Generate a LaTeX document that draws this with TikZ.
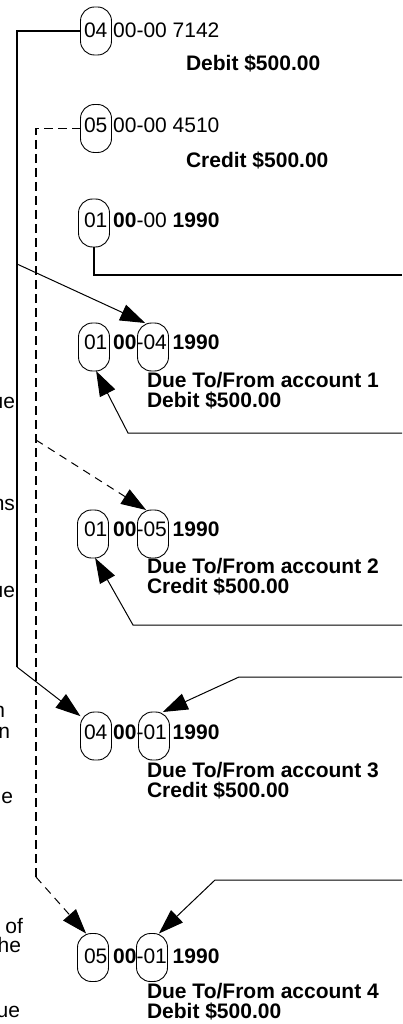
\documentclass[tikz,border=0pt]{standalone}
\usepackage{fontspec}
\setmainfont{Liberation Sans}
\usetikzlibrary{arrows.meta}
\begin{document}
\begin{tikzpicture}[x=1pt,y=-1pt,
  every node/.style={inner sep=0pt, outer sep=0pt, font=\fontsize{21pt}{20pt}\selectfont},
  oval/.style={draw, line width=0.9pt, rectangle, rounded corners=14pt, minimum width=31pt, minimum height=48pt},
  row/.style={anchor=base west},
  lab/.style={anchor=base west, font=\fontsize{21pt}{20pt}\selectfont\bfseries},
  frag/.style={anchor=base east},
  arr/.style={-{Triangle[length=25pt,width=17pt]}},
  thinline/.style={line width=1pt},
  outerline/.style={line width=1.4pt},
  dashouter/.style={line width=1.6pt, dash pattern=on 9pt off 5pt},
  dashinner/.style={line width=1pt, dash pattern=on 8pt off 6pt},
  thickline/.style={line width=2.2pt}
]
\useasboundingbox (0,0) rectangle (402,1024);

% texts
\node[row] (tA) at (84,37.5) {04 00-00 7142};
\node[lab] (lA) at (186,71) {Debit \$500.00};
\node[row] (tB) at (84,133) {05 00-00 4510};
\node[lab] (lB) at (186,168) {Credit \$500.00};
\node[row] (tC) at (84,227) {01 \textbf{00}-00 \textbf{1990}};
\node[row] (tD) at (84,349) {01 \textbf{00}-04 \textbf{1990}};
\node[lab] (lD1) at (147,387) {Due To/From account 1};
\node[lab] (lD2) at (147,407.5) {Debit \$500.00};
\node[row] (tE) at (84,536) {01 \textbf{00}-05 \textbf{1990}};
\node[lab] (lE1) at (147,573) {Due To/From account 2};
\node[lab] (lE2) at (147,593) {Credit \$500.00};
\node[row] (tF) at (84,739) {04 \textbf{00}-01 \textbf{1990}};
\node[lab] (lF1) at (147,777) {Due To/From account 3};
\node[lab] (lF2) at (147,797) {Credit \$500.00};
\node[row] (tG) at (84,963) {05 \textbf{00}-01 \textbf{1990}};
\node[lab] (lG1) at (147,998) {Due To/From account 4};
\node[lab] (lG2) at (147,1018) {Debit \$500.00};

% cut-off fragments at left edge (as in the reference)
\node[frag] (f1) at (15,408) {ue};
\node[frag] (f2) at (15,510) {ns};
\node[frag] (f3) at (15,597) {ue};
\node[frag] (f4) at (5,717) {n};
\node[frag] (f5) at (10,738) {n};
\node[frag] (f6) at (13,803) {ue};
\node[frag] (f7) at (23,933) {of};
\node[frag] (f8) at (21,952) {he};
\node[frag] (f9) at (20,1017) {ue};

% ovals
\node[oval] (A1) at (96,31) {};
\node[oval] (B1) at (96,128.5) {};
\node[oval] (C1) at (94,223) {};
\node[oval] (D1) at (94,347) {};
\node[oval] (D2) at (153,347) {};
\node[oval] (E1) at (93,534) {};
\node[oval] (E2) at (153,534) {};
\node[oval] (F1) at (96,736) {};
\node[oval] (F2) at (154,736) {};
\node[oval] (G1) at (93,957.5) {};
\node[oval] (G2) at (152,957.5) {};

% coordinates
\coordinate (sBr) at (17,264);
\coordinate (sBot) at (17,667);
\coordinate (dBr) at (36,440);
\coordinate (dBot) at (36,877);
\coordinate (cEnd) at (402,275);
\coordinate (rD) at (402,433); \coordinate (kD) at (128,433);
\coordinate (rE) at (402,625); \coordinate (kE) at (133,625);
\coordinate (rF) at (402,677); \coordinate (kF) at (239,677);
\coordinate (rG) at (402,880); \coordinate (kG) at (215,880);

% connectors
\draw[outerline] (A1.west) -| (sBot);
\draw[thinline,arr] (sBot) -- (F1.128);
\draw[thinline,arr] (sBr) -- (D2.108);
\draw[dashouter] (B1.west) -| (dBot);
\draw[dashinner,arr] (dBot) -- (G1.106);
\draw[dashinner,arr] (dBr) -- (E2.106);
\draw[thickline] (C1.south) |- (cEnd);
\draw[thinline,arr] (rD) -- (kD) -- (D1.-85);
\draw[thinline,arr] (rE) -- (kE) -- (E1.-85);
\draw[thinline,arr] (rF) -- (kF) -- (F2.70);
\draw[thinline,arr] (rG) -- (kG) -- (G2.74);
\end{tikzpicture}
\end{document}
